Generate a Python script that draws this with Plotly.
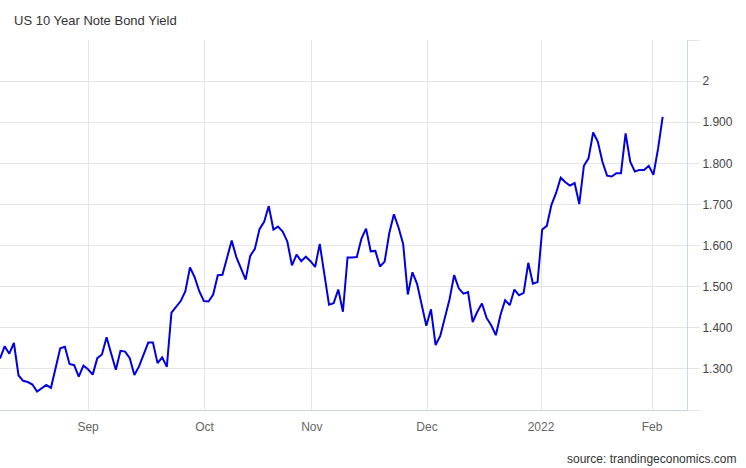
import plotly.graph_objects as go

# US 10Y yield, one value per trading session, Aug 2021 -> early Feb 2022
yield_pct = [
    1.325, 1.355, 1.337, 1.363, 1.284, 1.271, 1.268, 1.262, 1.245, 1.254,
    1.261, 1.254, 1.300, 1.350, 1.354, 1.312, 1.309, 1.281, 1.308, 1.299,
    1.286, 1.326, 1.335, 1.377, 1.337, 1.298, 1.344, 1.342, 1.326, 1.285,
    1.306, 1.337, 1.364, 1.364, 1.314, 1.328, 1.305, 1.437, 1.452, 1.465,
    1.489, 1.547, 1.523, 1.489, 1.465, 1.464, 1.481, 1.528, 1.529, 1.572,
    1.612, 1.572, 1.542, 1.517, 1.575, 1.592, 1.640, 1.658, 1.696, 1.639,
    1.646, 1.634, 1.610, 1.552, 1.578, 1.562, 1.573, 1.562, 1.548, 1.604,
    1.530, 1.456, 1.460, 1.493, 1.439, 1.571, 1.571, 1.572, 1.617, 1.641,
    1.586, 1.587, 1.549, 1.561, 1.630, 1.676, 1.644, 1.604, 1.481, 1.535,
    1.507, 1.457, 1.405, 1.445, 1.358, 1.380, 1.423, 1.469, 1.528, 1.496,
    1.483, 1.487, 1.414, 1.439, 1.459, 1.424, 1.406, 1.382, 1.431, 1.467,
    1.455, 1.493, 1.479, 1.485, 1.558, 1.507, 1.511, 1.639, 1.648, 1.699,
    1.728, 1.765, 1.754, 1.746, 1.752, 1.701, 1.794, 1.812, 1.875, 1.853,
    1.804, 1.770, 1.768, 1.776, 1.776, 1.873, 1.804, 1.780, 1.784, 1.784,
    1.794, 1.772, 1.835, 1.913,
]
session = list(range(len(yield_pct)))

# month boundaries, in session units
month_pos = [19.0, 44.15, 67.3, 92.15, 116.75, 140.7]
month_labels = ["Sep", "Oct", "Nov", "Dec", "2022", "Feb"]

y_ticks = [1.2, 1.3, 1.4, 1.5, 1.6, 1.7, 1.8, 1.9, 2.0, 2.1]
y_labels = ["", "1.300", "1.400", "1.500", "1.600", "1.700", "1.800", "1.900", "2", ""]

_GRID = "#e6e6e6"
_AXIS = "#ccd6eb"
_FONT = "Liberation Sans, Arial, sans-serif"

fig = go.Figure(
    go.Scatter(
        x=session,
        y=yield_pct,
        mode="lines",
        line=dict(color="#0000e0", width=2),
        hoverinfo="y",
    )
)

fig.update_layout(
    width=746,
    height=468,
    margin=dict(l=0, r=59, t=40, b=58),
    plot_bgcolor="white",
    paper_bgcolor="white",
    showlegend=False,
    font=dict(family=_FONT),
    title=dict(
        text="US 10 Year Note Bond Yield",
        font=dict(size=13, color="#333333"),
        xref="container", x=14 / 746, xanchor="left",
        yref="container", y=1 - 20.5 / 468, yanchor="middle",
    ),
    xaxis=dict(
        range=[0, 148.25],
        tickvals=month_pos,
        ticktext=month_labels,
        tickfont=dict(size=12, color="#666666"),
        showgrid=True,
        gridcolor=_GRID,
        gridwidth=1,
        showline=True,
        linecolor=_AXIS,
        linewidth=1,
        ticks="",
        ticklabelstandoff=6,
        zeroline=False,
        fixedrange=True,
    ),
    yaxis=dict(
        side="right",
        range=[1.2, 2.1],
        tickvals=y_ticks,
        ticktext=y_labels,
        tickfont=dict(size=12, color="#444444"),
        showgrid=True,
        gridcolor=_GRID,
        gridwidth=1,
        showline=True,
        linecolor=_AXIS,
        linewidth=1,
        ticks="outside",
        ticklen=12,
        tickcolor=_GRID,
        zeroline=False,
        fixedrange=True,
    ),
)

fig.add_annotation(
    text="source: trandingeconomics.com",
    xref="paper", yref="paper",
    x=738 / 687, y=-49 / 370,
    xanchor="right", yanchor="middle",
    showarrow=False,
    font=dict(size=12, color="#333333"),
)

# page body has a default 8px margin; drop it so the chart sits at the corner
fig.write_html(
    "out.html",
    config={"displayModeBar": False},
    post_script="document.body.style.margin='0';document.body.style.padding='0';",
)
